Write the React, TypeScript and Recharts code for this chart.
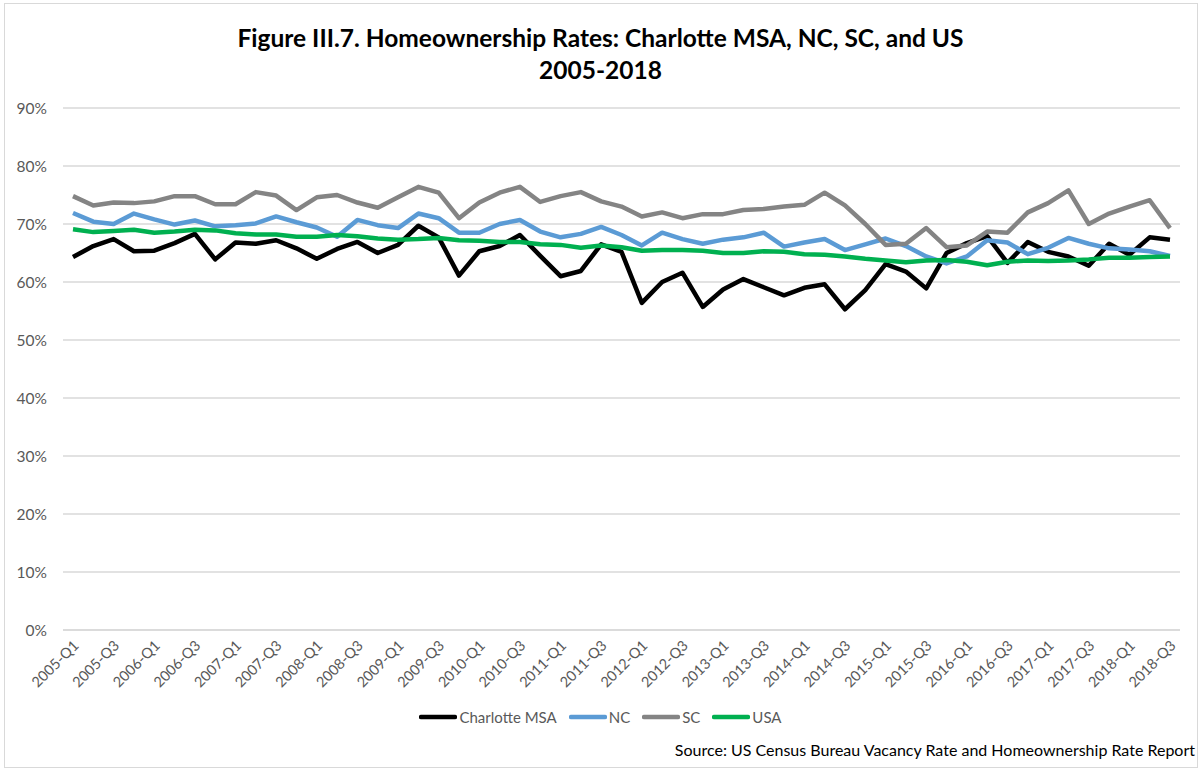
import { CartesianGrid, Legend, Line, LineChart, XAxis, YAxis } from 'recharts'

const quarters = [
	'2005-Q1', '2005-Q2', '2005-Q3', '2005-Q4',
	'2006-Q1', '2006-Q2', '2006-Q3', '2006-Q4',
	'2007-Q1', '2007-Q2', '2007-Q3', '2007-Q4',
	'2008-Q1', '2008-Q2', '2008-Q3', '2008-Q4',
	'2009-Q1', '2009-Q2', '2009-Q3', '2009-Q4',
	'2010-Q1', '2010-Q2', '2010-Q3', '2010-Q4',
	'2011-Q1', '2011-Q2', '2011-Q3', '2011-Q4',
	'2012-Q1', '2012-Q2', '2012-Q3', '2012-Q4',
	'2013-Q1', '2013-Q2', '2013-Q3', '2013-Q4',
	'2014-Q1', '2014-Q2', '2014-Q3', '2014-Q4',
	'2015-Q1', '2015-Q2', '2015-Q3', '2015-Q4',
	'2016-Q1', '2016-Q2', '2016-Q3', '2016-Q4',
	'2017-Q1', '2017-Q2', '2017-Q3', '2017-Q4',
	'2018-Q1', '2018-Q2', '2018-Q3',
]

const charlotte = [
	64.3, 66.2, 67.4, 65.3, 65.4, 66.7, 68.3, 63.9, 66.8, 66.6, 67.2, 65.8, 64.0, 65.7,
	66.9, 65.0, 66.4, 69.7, 67.7, 61.1, 65.3, 66.2, 68.1, 64.5, 61.0, 61.9, 66.5, 65.2,
	56.4, 60.0, 61.6, 55.7, 58.7, 60.5, 59.1, 57.7, 59.0, 59.6, 55.3, 58.6, 63.1, 61.8,
	58.9, 65.0, 66.7, 67.9, 63.3, 66.9, 65.2, 64.4, 62.8, 66.6, 64.7, 67.7, 67.3,
]

const nc = [
	71.9, 70.4, 70.0, 71.8, 70.8, 69.9, 70.6, 69.6, 69.8, 70.1, 71.3, 70.3, 69.4, 67.8,
	70.7, 69.8, 69.3, 71.8, 71.0, 68.5, 68.5, 70.0, 70.7, 68.7, 67.7, 68.3, 69.5, 68.1,
	66.3, 68.5, 67.4, 66.6, 67.3, 67.7, 68.5, 66.1, 66.8, 67.4, 65.5, 66.5, 67.5, 66.2,
	64.4, 63.2, 64.4, 67.2, 66.8, 64.8, 65.9, 67.6, 66.6, 65.8, 65.6, 65.3, 64.5,
]

const sc = [
	74.8, 73.2, 73.7, 73.6, 73.9, 74.8, 74.8, 73.4, 73.4, 75.5, 74.9, 72.4, 74.6, 75.0,
	73.7, 72.8, 74.6, 76.4, 75.4, 71.0, 73.7, 75.4, 76.4, 73.8, 74.8, 75.5, 73.9, 73.0,
	71.3, 72.0, 71.0, 71.7, 71.7, 72.4, 72.6, 73.0, 73.3, 75.4, 73.2, 70.0, 66.4, 66.6,
	69.3, 66.0, 66.3, 68.7, 68.5, 72.0, 73.6, 75.8, 70.0, 71.8, 73.0, 74.1, 69.3,
]

const usa = [
	69.1, 68.6, 68.8, 69.0, 68.5, 68.7, 69.0, 68.9, 68.4, 68.2, 68.2, 67.8, 67.8, 68.1,
	67.9, 67.5, 67.3, 67.4, 67.6, 67.2, 67.1, 66.9, 66.9, 66.5, 66.4, 65.9, 66.3, 66.0,
	65.4, 65.5, 65.5, 65.4, 65.0, 65.0, 65.3, 65.2, 64.8, 64.7, 64.4, 64.0, 63.7, 63.4,
	63.7, 63.8, 63.5, 62.9, 63.5, 63.7, 63.6, 63.7, 63.9, 64.2, 64.2, 64.3, 64.4,
]

const yTicks = [0, 10, 20, 30, 40, 50, 60, 70, 80, 90]

const data = quarters.map((q, i) => ({
	quarter: q,
	charlotte: charlotte[i],
	nc: nc[i],
	sc: sc[i],
	usa: usa[i],
}))

const FONT = 'Lato, "Open Sans", sans-serif'
const TEXT_GRAY = '#595959'

const QuarterTick = ({ x, y, payload }: any) => (
	<text
		x={x + 4}
		y={y + 6}
		transform={`rotate(-45, ${x + 4}, ${y + 6})`}
		textAnchor='end'
		dominantBaseline='middle'
		fill={TEXT_GRAY}
		fontSize={14.5}
		fontFamily={FONT}
	>
		{payload.value}
	</text>
)

const LegendContent = ({ payload }: any) => (
	<div style={{ display: 'flex', justifyContent: 'center', gap: 12, fontFamily: FONT, fontSize: 15, color: TEXT_GRAY }}>
		{(payload || []).map((entry: any) => (
			<div key={entry.value} style={{ display: 'flex', alignItems: 'center' }}>
				<svg width={38} height={10}>
					<line x1={2} y1={5} x2={36} y2={5} stroke={entry.color} strokeWidth={4.5} strokeLinecap='round' />
				</svg>
				<span style={{ marginLeft: 2 }}>{entry.value}</span>
			</div>
		))}
	</div>
)

export default function App() {
	return (
		<div style={{ position: 'absolute', left: 0, top: 0, width: 1201, height: 770, background: '#fff', fontFamily: FONT }}>
			<div style={{ position: 'absolute', left: 4, top: 3, width: 1192, height: 763, border: '1px solid #d9d9d9' }} />
			<div
				style={{
					position: 'absolute',
					left: 0,
					top: 22,
					width: 1201,
					textAlign: 'center',
					fontWeight: 700,
					fontSize: 24.5,
					lineHeight: '32px',
					color: '#000',
				}}
			>
				<div>Figure III.7. Homeownership Rates: Charlotte MSA, NC, SC, and US</div>
				<div>2005-2018</div>
			</div>
			<div style={{ position: 'absolute', left: 0, top: 0 }}>
				<LineChart width={1201} height={770} data={data} margin={{ top: 108, right: 21, bottom: 70, left: 0 }}>
					<CartesianGrid vertical={false} stroke='#d9d9d9' strokeWidth={1.3} />
					<XAxis
						dataKey='quarter'
						interval={1}
						tick={<QuarterTick />}
						tickLine={false}
						axisLine={{ stroke: '#d9d9d9', strokeWidth: 1.3 }}
						padding={{ left: 10, right: 10 }}
						height={70}
					/>
					<YAxis
						domain={[0, 90]}
						ticks={yTicks}
						tickFormatter={(v) => `${v}%`}
						tick={{ fill: TEXT_GRAY, fontSize: 15.5, fontFamily: FONT }}
						tickLine={false}
						axisLine={false}
						tickMargin={10}
						width={63}
					/>
					<Legend
						verticalAlign='middle'
						align='center'
						layout='horizontal'
						content={<LegendContent />}
						wrapperStyle={{ top: 708, left: 0, width: 1201 }}
					/>
					<Line name='Charlotte MSA' dataKey='charlotte' stroke='#000000' strokeWidth={4.5} dot={false} strokeLinejoin='round' isAnimationActive={false} />
					<Line name='NC' dataKey='nc' stroke='#5b9bd5' strokeWidth={4.5} dot={false} strokeLinejoin='round' isAnimationActive={false} />
					<Line name='SC' dataKey='sc' stroke='#848484' strokeWidth={4.5} dot={false} strokeLinejoin='round' isAnimationActive={false} />
					<Line name='USA' dataKey='usa' stroke='#00b050' strokeWidth={4.5} dot={false} strokeLinejoin='round' isAnimationActive={false} />
				</LineChart>
			</div>
			<div
				style={{
					position: 'absolute',
					right: 6,
					top: 740,
					fontSize: 16,
					color: '#000',
					whiteSpace: 'nowrap',
				}}
			>
				Source: US Census Bureau Vacancy Rate and Homeownership Rate Report
			</div>
		</div>
	)
}
